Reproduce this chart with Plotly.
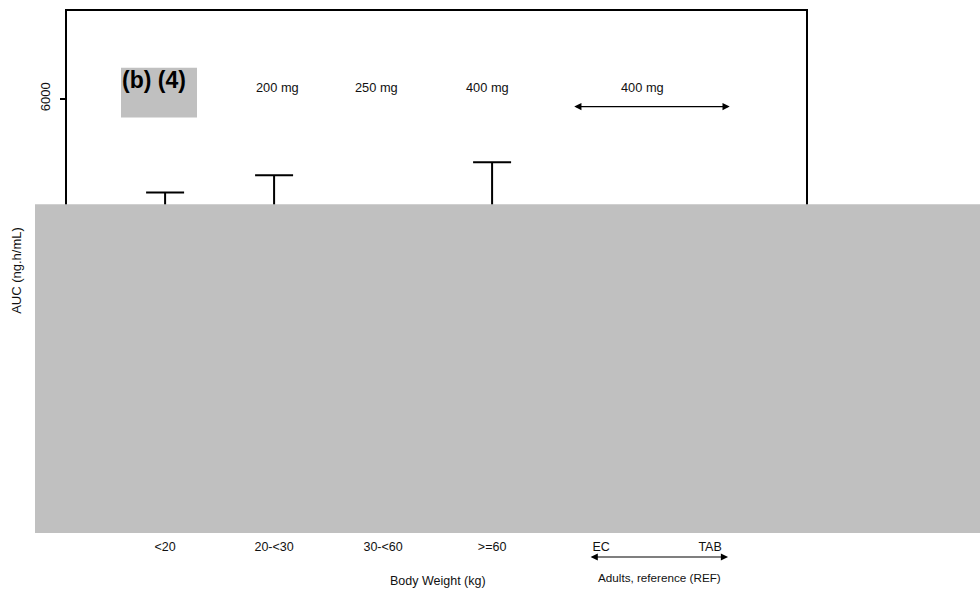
import plotly.graph_objects as go

# Groups on the x axis (paediatric weight bands, then adult formulations)
groups = ["<20", "20-<30", "30-<60", ">=60", "EC", "TAB"]
# Central AUC estimate per group (ng.h/mL)
auc_center = [3400, 3600, 3300, 3700, 3100, 3000]
# Upper whisker per group (ng.h/mL)
auc_upper = [4695, 4935, 4350, 5115, 4300, 4250]
# Dose labels shown above the groups
dose_labels = ["200 mg", "250 mg", "400 mg", "400 mg"]
dose_pos = [1.03, 1.94, 2.96, 4.38]

FONT = "Liberation Sans, Arial, sans-serif"
xs = list(range(len(groups)))

fig = go.Figure()
fig.add_trace(go.Scatter(
    x=xs, y=auc_center, mode="markers",
    marker=dict(size=6, color="black"),
    error_y=dict(type="data", symmetric=False,
                 array=[u - c for u, c in zip(auc_upper, auc_center)],
                 arrayminus=[0] * len(groups),
                 width=19, thickness=2, color="black"),
    showlegend=False, hoverinfo="skip",
))

annotations = []
for t, p in zip(dose_labels, dose_pos):
    annotations.append(dict(x=p, y=6160, xref="x", yref="y", text=t, showarrow=False,
                            xanchor="center", yanchor="middle",
                            font=dict(family=FONT, size=12.8, color="#111")))

# Dose bracket over the adult groups
annotations.append(dict(x=5.18, y=5890, ax=3.74, ay=5890, xref="x", yref="y",
                        axref="x", ayref="y", text="", showarrow=True,
                        arrowhead=2, startarrowhead=2, arrowside="end+start",
                        arrowsize=1.2, startarrowsize=1.2, arrowwidth=1.2, arrowcolor="black"))
# Bracket under the adult reference groups
annotations.append(dict(x=5.165, y=-0.052, ax=3.89, ay=-0.052, xref="x", yref="y domain",
                        axref="x", ayref="y domain", text="", showarrow=True,
                        arrowhead=2, startarrowhead=2, arrowside="end+start",
                        arrowsize=1.2, startarrowsize=1.2, arrowwidth=1.2, arrowcolor="black"))
annotations.append(dict(x=4.537, y=(530 - 578) / 521, xref="x", yref="paper",
                        xanchor="center", yanchor="middle",
                        text="Adults, reference (REF)", showarrow=False,
                        font=dict(family=FONT, size=11.7, color="#111")))
annotations.append(dict(x=2.50, y=(530 - 581) / 521, xref="x", yref="paper",
                        xanchor="center", yanchor="middle",
                        text="Body Weight (kg)", showarrow=False,
                        font=dict(family=FONT, size=12.5, color="#111")))
annotations.append(dict(x=(154 - 67) / 739, y=(530 - 78) / 521, xref="paper", yref="paper",
                        xanchor="center", yanchor="middle",
                        showarrow=False, text="<b>(b) (4)</b>",
                        font=dict(family=FONT, size=23, color="black")))

shapes = [
    # redaction blocks
    dict(type="rect", xref="paper", yref="paper", layer="above",
         x0=(35 - 67) / 739, x1=(980 - 67) / 739,
         y0=(530 - 533) / 521, y1=(530 - 203) / 521,
         fillcolor="#C0C0C0", line=dict(width=0)),
    dict(type="rect", xref="paper", yref="paper", layer="below",
         x0=(121 - 67) / 739, x1=(197 - 67) / 739,
         y0=(530 - 116) / 521, y1=(530 - 66) / 521,
         fillcolor="#C0C0C0", line=dict(width=0)),
]

fig.update_layout(
    width=980, height=590,
    margin=dict(l=67, r=174, t=9, b=60),
    paper_bgcolor="white", plot_bgcolor="white",
    font=dict(family=FONT, size=12, color="#111"),
    annotations=annotations, shapes=shapes,
    xaxis=dict(range=[-0.9, 5.88], tickvals=xs, ticktext=groups,
               showline=True, mirror=True, linewidth=2, linecolor="black",
               ticks="outside", ticklen=4, tickcolor="rgba(0,0,0,0)",
               showgrid=False, zeroline=False,
               tickfont=dict(family=FONT, size=12.5, color="#111")),
    yaxis=dict(range=[0, 7220], tickvals=[0, 2000, 4000, 6000],
               showline=True, mirror=True, linewidth=2, linecolor="black",
               ticks="outside", ticklen=5, tickwidth=1.5, tickcolor="black",
               tickangle=-90, ticklabelstandoff=5,
               showgrid=False, zeroline=False,
               tickfont=dict(family=FONT, size=13, color="#111")),
)
fig.update_yaxes(title=dict(text="AUC (ng.h/mL)", standoff=13,
                            font=dict(family=FONT, size=13, color="#111")))

fig.write_html("out.html")
